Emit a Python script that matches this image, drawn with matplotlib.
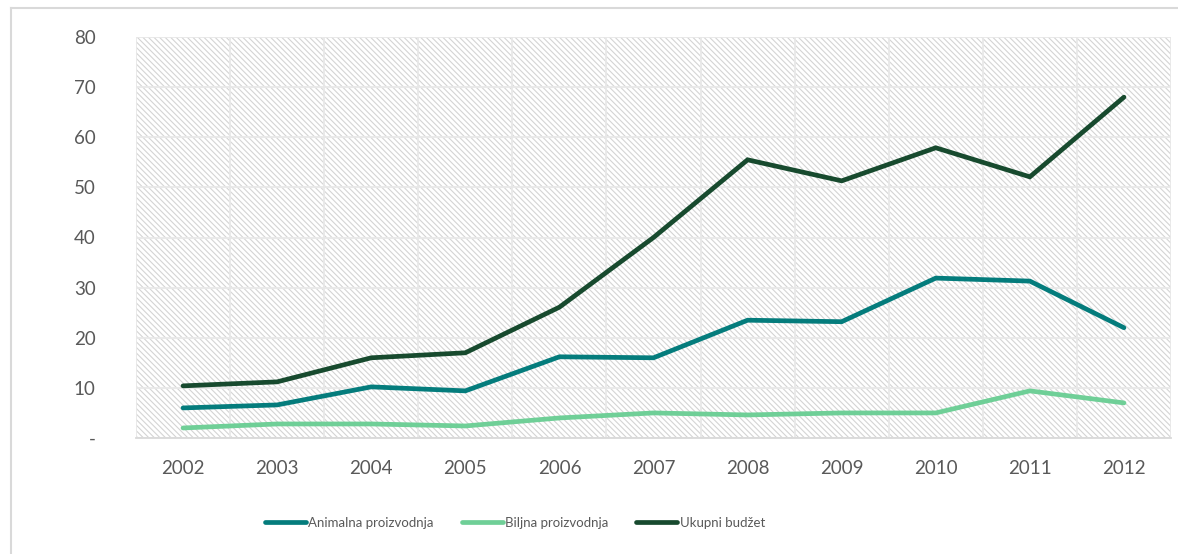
import matplotlib
matplotlib.use("Agg")
import matplotlib.pyplot as plt
from matplotlib.patches import Rectangle
from matplotlib.lines import Line2D
from matplotlib.ticker import FuncFormatter, MultipleLocator

years = ["2002", "2003", "2004", "2005", "2006", "2007", "2008", "2009", "2010", "2011", "2012"]
animalna = [6.0, 6.6, 10.2, 9.4, 16.2, 16.0, 23.5, 23.2, 31.9, 31.3, 22.0]
biljna = [2.0, 2.8, 2.8, 2.4, 4.0, 5.0, 4.6, 5.0, 5.0, 9.4, 7.0]
ukupni = [10.4, 11.2, 16.0, 17.0, 26.1, 40.0, 55.5, 51.3, 57.9, 52.1, 68.0]
series_names = ["Animalna proizvodnja", "Biljna proizvodnja", "Ukupni budžet"]
colors = ["#047C7C", "#6FCF97", "#174A2E"]

plt.rcParams['font.family'] = ['Lato', 'DejaVu Sans']
plt.rcParams['hatch.linewidth'] = 0.8

W, H = 1178, 554
fig = plt.figure(figsize=(W/100, H/100), dpi=100)
fig.patch.set_facecolor('white')

# outer chart border (left and top edges only visible)
fig.add_artist(Line2D([11/W, 11/W], [-0.1, 1-8/H], transform=fig.transFigure,
                      color='#d9d9d9', linewidth=1.5))
fig.add_artist(Line2D([11/W, 1.1], [1-8/H, 1-8/H], transform=fig.transFigure,
                      color='#d9d9d9', linewidth=1.5))

left, right, top, bottom = 136, 1171, 37, 438
ax = fig.add_axes([left/W, 1-bottom/H, (right-left)/W, (bottom-top)/H])
ax.set_facecolor('white')

x = list(range(len(years)))
ax.set_xlim(-0.5, len(years)-0.5)
ax.set_ylim(0, 80)

ax.add_patch(Rectangle((-0.5, 0), len(years), 80, facecolor='white', edgecolor='#d4d4d4',
                       linewidth=0, hatch='\\\\\\\\\\\\', zorder=0))

ax.yaxis.set_major_locator(MultipleLocator(10))
ax.xaxis.set_major_locator(MultipleLocator(1))
ax.xaxis.set_minor_locator(MultipleLocator(0.5))
ax.grid(True, which='major', axis='y', color='#e8e8e8', linewidth=1.3, zorder=1)
ax.grid(True, which='minor', axis='x', color='#e8e8e8', linewidth=1.3, zorder=1)

ax.set_xticks(x)
ax.set_xticklabels(years)
ax.yaxis.set_major_formatter(FuncFormatter(lambda v, p: '-' if v == 0 else f"{int(v)}"))
ax.tick_params(axis='both', which='both', length=0, labelsize=13.5, colors='#595959')
ax.tick_params(axis='x', pad=16)
ax.tick_params(axis='y', pad=29)

for s in ['top', 'right', 'left']:
    ax.spines[s].set_visible(False)
ax.spines['bottom'].set_color('#d9d9d9')
ax.spines['bottom'].set_linewidth(1.3)

for vals, name, c in zip([animalna, biljna, ukupni], series_names, colors):
    ax.plot(x, vals, color=c, linewidth=3.4, label=name, solid_capstyle='round',
            solid_joinstyle='miter', zorder=3)

leg = fig.legend(loc='center', bbox_to_anchor=(515/W, 1-523/H), ncol=3, frameon=False,
                 fontsize=9.5, handlelength=3.1, handletextpad=0.2, columnspacing=2.1,
                 labelcolor='#595959')

fig.savefig('out.png', dpi=100, facecolor='white')
